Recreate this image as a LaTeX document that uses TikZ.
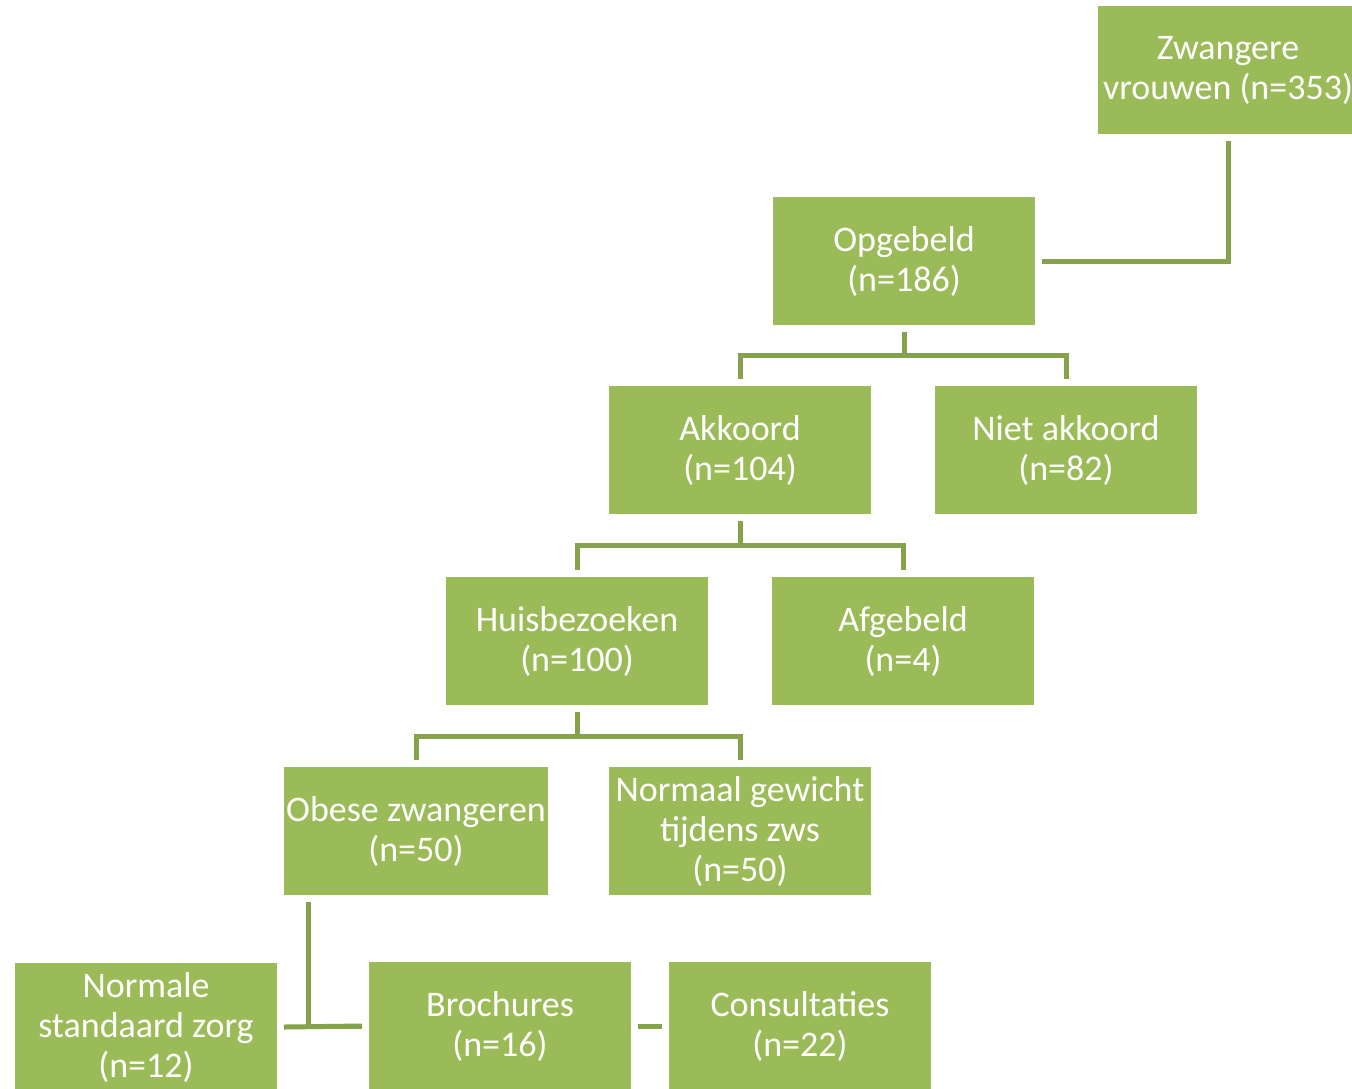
\documentclass[tikz,border=0pt]{standalone}
\usepackage{fontspec}
\setmainfont{Carlito}
\usetikzlibrary{calc}
\definecolor{boxgreen}{HTML}{9BBB59}
\definecolor{linegreen}{HTML}{86A34B}

\begin{document}
\begin{tikzpicture}
[x=0.5pt,y=-0.5pt,%
  every node/.style={shape=rectangle,fill=boxgreen,text=white,align=center,%
    minimum width=131pt,minimum height=64pt,inner sep=1pt,outer sep=3.5pt},%
  link/.style={draw=linegreen,line width=2.5pt}]
\fontsize{18}{20}\selectfont
\clip (0,0) rectangle (1352,1088);
% boxes
\node (zwanger) at (1228,70) [minimum width=130pt] {Zwangere\\vrouwen (n=353)};
\node (opgebeld) at (904,261) {Opgebeld\\(n=186)};
\node (akkoord) at (740,450) {Akkoord\\(n=104)};
\node (nietakkoord) at (1066,450) {Niet akkoord\\(n=82)};
\node (huisbezoek) at (577,641) {Huisbezoeken\\(n=100)};
\node (afgebeld) at (903,641) {Afgebeld\\(n=4)};
\node (obese) at (416,831) {Obese zwangeren\\(n=50)};
\node (normaal) at (740,831) {Normaal gewicht\\tijdens zws\\(n=50)};
\node (standaard) at (146,1027) {Normale\\standaard zorg\\(n=12)};
\node (brochures) at (500,1026) {Brochures\\(n=16)};
\node (consult) at (800,1026) {Consultaties\\(n=22)};
% connectors
\draw[link] (zwanger.south) |- (opgebeld.east);
\coordinate (f1) at ($(opgebeld.south)!.5!(akkoord.north)$);
\draw[link] (opgebeld.south) -- (opgebeld.south |- f1);
\draw[link] (akkoord.north) |- (f1) -| (nietakkoord.north);
\coordinate (f2) at ($(akkoord.south)!.5!(huisbezoek.north)$);
\draw[link] (akkoord.south) -- (akkoord.south |- f2);
\draw[link] (huisbezoek.north) |- (f2) -| (afgebeld.north);
\coordinate (f3) at ($(huisbezoek.south)!.5!(obese.north)$);
\draw[link] (huisbezoek.south) -- (huisbezoek.south |- f3);
\draw[link] (obese.north) |- (f3) -| (normaal.north);
\draw[link] ([xshift=15.5pt]obese.south west) |- (brochures.west);
\draw[link] (standaard.east) -- (brochures.west);
\draw[link] (brochures.east) -- (consult.west);
\end{tikzpicture}
\end{document}
